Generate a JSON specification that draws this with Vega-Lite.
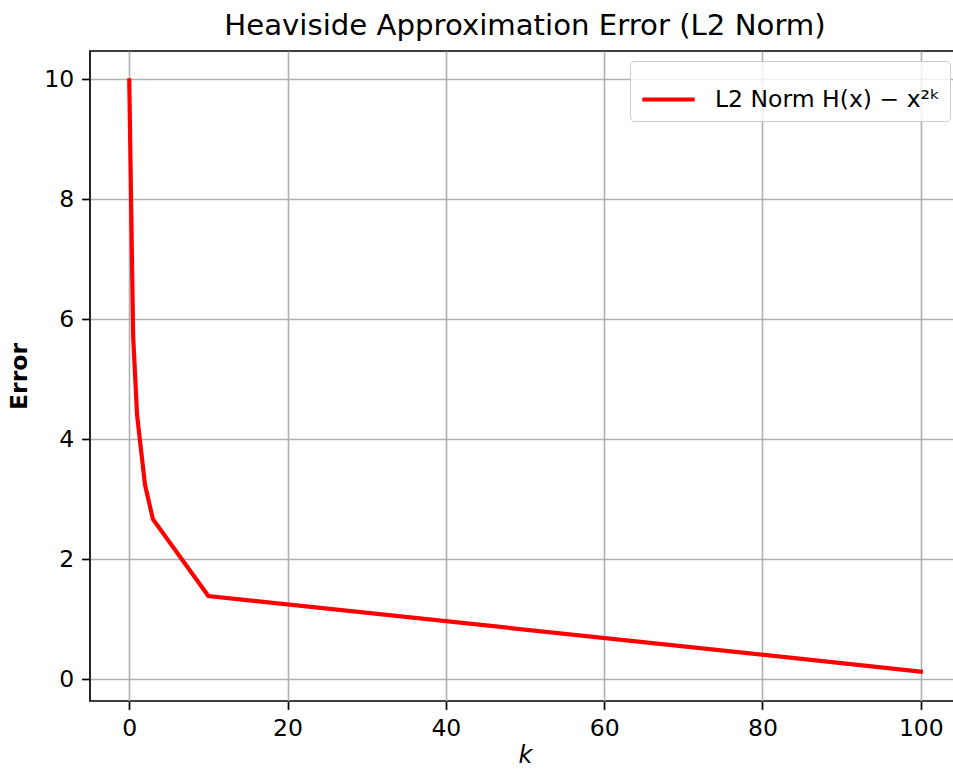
{
  "$schema": "https://vega.github.io/schema/vega-lite/v6.json",
  "autosize": {"type": "none"},
  "padding": {"left": 90, "top": 51, "right": 0, "bottom": 70},
  "width": 870,
  "height": 650,
  "background": "white",
  "config": {
    "font": "DejaVu Sans",
    "view": {"stroke": "black", "strokeWidth": 1.7},
    "axis": {
      "gridColor": "#b0b0b0",
      "gridWidth": 1.6,
      "gridOpacity": 1,
      "domain": false,
      "tickColor": "black",
      "tickWidth": 1.7,
      "tickSize": 8.4,
      "labelFont": "DejaVu Sans",
      "labelFontSize": 23.5,
      "labelColor": "black",
      "titleColor": "black",
      "titleFont": "DejaVu Sans"
    }
  },
  "title": {
    "text": "Heaviside Approximation Error (L2 Norm)",
    "fontSize": 29.2,
    "fontWeight": "normal",
    "font": "DejaVu Sans",
    "color": "black",
    "offset": 10
  },
  "data": {
    "values": [
      {"k": 0.01, "error": 9.98, "series": "L2 Norm H(x) − x²ᵏ"},
      {"k": 0.5, "error": 5.72, "series": "L2 Norm H(x) − x²ᵏ"},
      {"k": 1, "error": 4.4, "series": "L2 Norm H(x) − x²ᵏ"},
      {"k": 2, "error": 3.24, "series": "L2 Norm H(x) − x²ᵏ"},
      {"k": 3, "error": 2.67, "series": "L2 Norm H(x) − x²ᵏ"},
      {"k": 10, "error": 1.39, "series": "L2 Norm H(x) − x²ᵏ"},
      {"k": 100, "error": 0.13, "series": "L2 Norm H(x) − x²ᵏ"}
    ]
  },
  "mark": {"type": "line", "strokeWidth": 4.2, "clip": true, "strokeCap": "square"},
  "encoding": {
    "x": {
      "field": "k",
      "type": "quantitative",
      "scale": {"domain": [-4.95, 104.95], "nice": false, "zero": false},
      "axis": {
        "values": [0, 20, 40, 60, 80, 100],
        "title": "k",
        "titleFontStyle": "italic",
        "titleFontWeight": "normal",
        "titleFontSize": 24,
        "labelPadding": 7,
        "titlePadding": 4
      }
    },
    "y": {
      "field": "error",
      "type": "quantitative",
      "scale": {"domain": [-0.36, 10.47], "nice": false, "zero": false},
      "axis": {
        "values": [0, 2, 4, 6, 8, 10],
        "title": "Error",
        "titleFontWeight": "bold",
        "titleFontSize": 23.5,
        "labelPadding": 8,
        "titlePadding": 12
      }
    },
    "color": {
      "field": "series",
      "type": "nominal",
      "scale": {"range": ["#ff0000"]},
      "legend": {
        "title": null,
        "orient": "top-right",
        "offset": 10,
        "padding": 10,
        "fillColor": "rgba(255,255,255,0.8)",
        "strokeColor": "#cccccc",
        "cornerRadius": 4,
        "symbolType": "stroke",
        "symbolSize": 2750,
        "symbolStrokeWidth": 4.2,
        "labelFontSize": 23.5,
        "labelFont": "DejaVu Sans",
        "labelColor": "black",
        "labelOffset": 18,
        "labelLimit": 400
      }
    }
  }
}
